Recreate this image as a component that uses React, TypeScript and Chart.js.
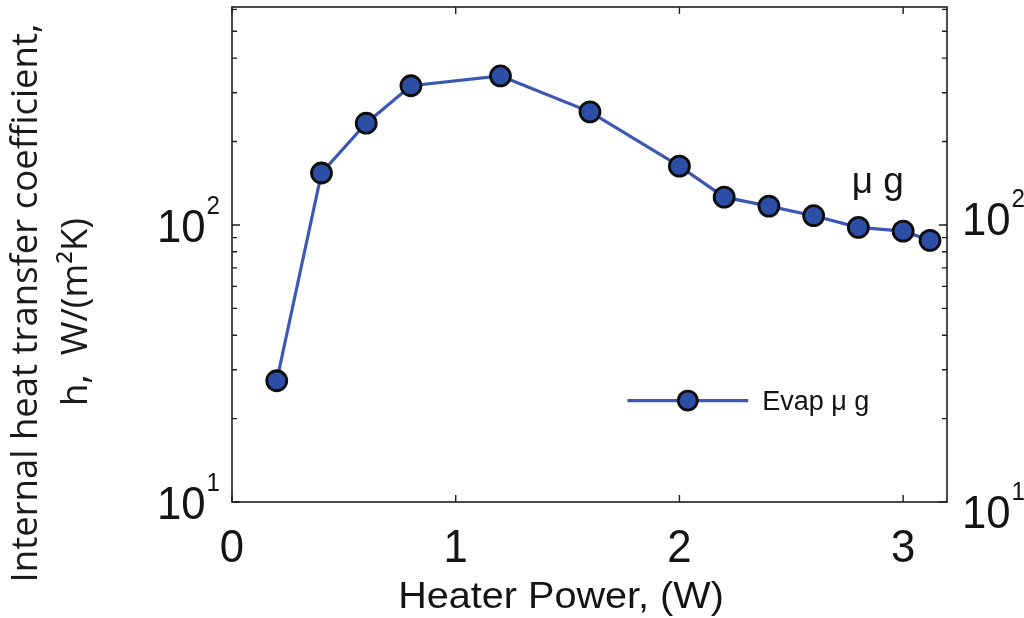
import React, { useEffect, useRef } from "react";
import { Chart, registerables } from "chart.js";

Chart.register(...registerables);

const heaterPower = [0.2, 0.4, 0.6, 0.8, 1.2, 1.6, 2.0, 2.2, 2.4, 2.6, 2.8, 3.0, 3.12];
const hValues = [27.4, 154, 233, 318, 345, 256, 163, 126, 117, 108, 98, 95, 88];
const xTicks = [0, 1, 2, 3];
const yMajorTicks = [10, 100];
const yMinorTicks = [20, 30, 40, 50, 60, 70, 80, 90, 200, 300, 400, 500, 600];
const seriesLabel = "Evap \u03bc g";
const annotationText = "\u03bc g";
const xTitle = "Heater Power, (W)";
const yTitle = ["Internal heat transfer coefficient,", "h,  W/(m\u00b2K)"];

const LINE_COLOR = "#3d58b3";
const MARKER_FILL = "#2c4ea6";
const INK = "#141414";

function drawScaledText(ctx: CanvasRenderingContext2D, text: string, x: number, y: number, font: string, sx: number, align: CanvasTextAlign) {
  ctx.save();
  ctx.font = font;
  ctx.textAlign = align;
  ctx.textBaseline = "alphabetic";
  ctx.translate(x, y);
  ctx.scale(sx, 1);
  ctx.fillText(text, 0, 0);
  ctx.restore();
}

function drawPower(ctx: CanvasRenderingContext2D, exp: string, x: number, baseline: number, alignRight: boolean) {
  const baseFont = "47px 'Liberation Sans', Arial, sans-serif";
  const expFont = "26px 'Liberation Sans', Arial, sans-serif";
  const sx = 0.93;
  ctx.font = baseFont;
  const bw = ctx.measureText("10").width * sx;
  ctx.font = expFont;
  const ew = ctx.measureText(exp).width * sx;
  const start = alignRight ? x - bw - ew - 1 : x;
  drawScaledText(ctx, "10", start, baseline, baseFont, sx, "left");
  drawScaledText(ctx, exp, start + bw + 1, baseline - 28, expFont, sx, "left");
}

const framePlugin = {
  id: "framePlugin",
  afterDraw(chart: any) {
    const ctx: CanvasRenderingContext2D = chart.ctx;
    const { left, right, top, bottom } = chart.chartArea;
    const xs = chart.scales.x;
    const ys = chart.scales.y;
    ctx.save();
    ctx.strokeStyle = "#1e1e1e";
    ctx.lineWidth = 1.6;
    ctx.strokeRect(left, top, right - left, bottom - top);
    ctx.lineWidth = 1.4;
    ctx.beginPath();
    xTicks.forEach((v) => {
      const px = xs.getPixelForValue(v);
      ctx.moveTo(px, bottom);
      ctx.lineTo(px, bottom - 7);
      ctx.moveTo(px, top);
      ctx.lineTo(px, top + 7);
    });
    yMajorTicks.forEach((v) => {
      const py = ys.getPixelForValue(v);
      ctx.moveTo(left, py);
      ctx.lineTo(left + 8, py);
      ctx.moveTo(right, py);
      ctx.lineTo(right - 8, py);
    });
    yMinorTicks.forEach((v) => {
      const py = ys.getPixelForValue(v);
      ctx.moveTo(left, py);
      ctx.lineTo(left + 5, py);
      ctx.moveTo(right, py);
      ctx.lineTo(right - 5, py);
    });
    ctx.stroke();

    ctx.fillStyle = INK;
    xTicks.forEach((v) => {
      drawScaledText(ctx, String(v), xs.getPixelForValue(v), bottom + 60, "47px 'Liberation Sans', Arial, sans-serif", 0.93, "center");
    });
    const exps: Record<number, string> = { 10: "1", 100: "2" };
    const rightOffsets: Record<number, number> = { 10: 26, 100: 10 };
    yMajorTicks.forEach((v) => {
      const py = ys.getPixelForValue(v);
      drawPower(ctx, exps[v], left - 12, py + 17, true);
      drawPower(ctx, exps[v], right + 15, py + rightOffsets[v], false);
    });

    drawScaledText(ctx, xTitle, 561, 608, "36px 'Liberation Sans', Arial, sans-serif", 1.1, "center");

    ctx.save();
    ctx.font = "36.5px 'Open Sans', sans-serif";
    ctx.fillStyle = "#1a1a1a";
    ctx.textAlign = "center";
    ctx.textBaseline = "alphabetic";
    ctx.translate(37, 303);
    ctx.rotate(-Math.PI / 2);
    ctx.fillText(yTitle[0], 0, 0);
    ctx.fillText(yTitle[1], -9, 50);
    ctx.restore();

    drawScaledText(ctx, annotationText, xs.getPixelForValue(2.77), ys.getPixelForValue(130), "37px 'Liberation Sans', Arial, sans-serif", 1.0, "left");

    const ds = chart.data.datasets[0];
    const ly = top + (bottom - top) * 0.795;
    const lx0 = left + (right - left) * 0.553;
    const lx1 = left + (right - left) * 0.722;
    ctx.strokeStyle = ds.borderColor;
    ctx.lineWidth = ds.borderWidth;
    ctx.beginPath();
    ctx.moveTo(lx0, ly);
    ctx.lineTo(lx1, ly);
    ctx.stroke();
    ctx.beginPath();
    ctx.arc((lx0 + lx1) / 2, ly, ds.pointRadius - 0.5, 0, Math.PI * 2);
    ctx.fillStyle = ds.pointBackgroundColor;
    ctx.fill();
    ctx.lineWidth = ds.pointBorderWidth;
    ctx.strokeStyle = ds.pointBorderColor;
    ctx.stroke();
    ctx.fillStyle = INK;
    drawScaledText(ctx, ds.label, lx1 + 14, ly + 9, "27px 'Liberation Sans', Arial, sans-serif", 1.0, "left");
    ctx.restore();
  },
};

export default function App() {
  const canvasRef = useRef<HTMLCanvasElement | null>(null);
  useEffect(() => {
    if (!canvasRef.current) return;
    const chart = new Chart(canvasRef.current, {
      type: "line",
      data: {
        datasets: [
          {
            label: seriesLabel,
            data: heaterPower.map((x, i) => ({ x, y: hValues[i] })),
            borderColor: LINE_COLOR,
            borderWidth: 3.2,
            pointBackgroundColor: MARKER_FILL,
            pointBorderColor: "#0d0d0d",
            pointBorderWidth: 2.8,
            pointRadius: 10,
            tension: 0,
            clip: false as any,
          },
        ],
      },
      options: {
        responsive: false,
        animation: false,
        layout: { autoPadding: false, padding: { left: 232, right: 77, top: 7, bottom: 116 } },
        scales: {
          x: { type: "linear", min: 0, max: 3.196, display: false },
          y: { type: "logarithmic", min: 10, max: 612, display: false },
        },
        plugins: { legend: { display: false }, tooltip: { enabled: false } },
      },
      plugins: [framePlugin],
    });
    return () => chart.destroy();
  }, []);
  return (
    <div style={{ position: "fixed", left: 0, top: 0, width: 1024, height: 618, background: "#fff" }}>
      <canvas ref={canvasRef} width={1024} height={618} />
    </div>
  );
}
